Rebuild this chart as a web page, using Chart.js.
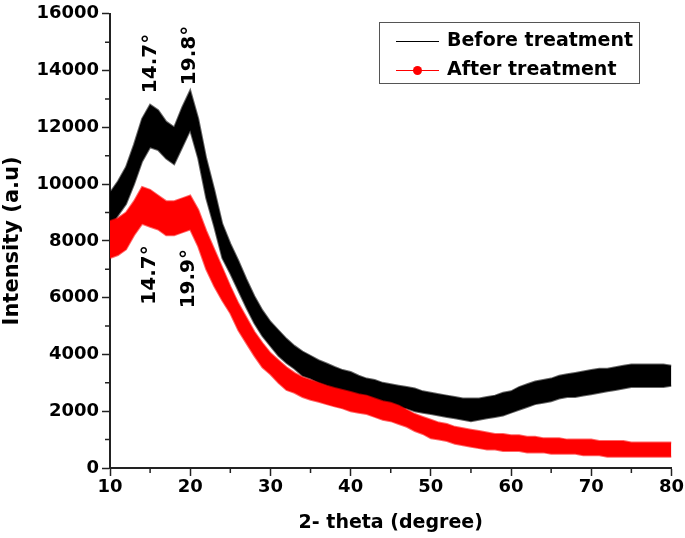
<!DOCTYPE html>
<html>
<head>
<meta charset="utf-8">
<script src="https://cdn.jsdelivr.net/npm/chart.js@4.4.1/dist/chart.umd.min.js"></script>
<style>
  html, body { margin: 0; padding: 0; background: #fff; }
  #graph { display: block; }
</style>
</head>
<body>
<canvas id="graph" width="685" height="538"></canvas>
<script>
const theta = [10, 11, 12, 13, 14, 15, 16, 17, 18, 19, 20, 21, 22, 23, 24, 25, 26, 27, 28, 29,
    30, 31, 32, 33, 34, 35, 36, 37, 38, 39, 40, 41, 42, 43, 44, 45, 46, 47, 48, 49,
    50, 51, 52, 53, 54, 55, 56, 57, 58, 59, 60, 61, 62, 63, 64, 65, 66, 67, 68, 69,
    70, 71, 72, 73, 74, 75, 76, 77, 78, 79, 80];

// upper / lower edge of the noisy band
const beforeHigh = [9700, 10100, 10600, 11400, 12300, 12800, 12600, 12200, 12000, 12700,
    13300, 12300, 10900, 9800, 8600, 7900, 7300, 6650, 6050, 5550,
    5150, 4850, 4550, 4300, 4100, 3950, 3800, 3680, 3560, 3450,
    3380, 3250, 3150, 3100, 3000, 2950, 2900, 2850, 2800, 2700,
    2650, 2600, 2550, 2500, 2450, 2450, 2450, 2500, 2550, 2650,
    2700, 2850, 2950, 3050, 3100, 3150, 3250, 3300, 3350, 3400,
    3450, 3500, 3500, 3550, 3600, 3650, 3650, 3650, 3650, 3650, 3600];
const beforeLow = [8500, 8900, 9300, 10000, 10800, 11300, 11200, 10900, 10700, 11300,
    11900, 10900, 9500, 8500, 7400, 6850, 6250, 5650, 5100, 4650,
    4300, 3950, 3700, 3500, 3250, 3150, 3000, 2900, 2780, 2680,
    2600, 2550, 2450, 2400, 2300, 2200, 2150, 2100, 2000, 1950,
    1900, 1850, 1800, 1750, 1700, 1650, 1700, 1750, 1800, 1850,
    1950, 2050, 2150, 2250, 2300, 2350, 2450, 2500, 2500, 2550,
    2600, 2650, 2700, 2750, 2800, 2850, 2850, 2850, 2850, 2850, 2900];
const afterHigh = [8700, 8800, 9000, 9400, 9900, 9800, 9600, 9400, 9400, 9500,
    9600, 9100, 8350, 7700, 7050, 6400, 5800, 5300, 4800, 4400,
    4050, 3800, 3550, 3350, 3200, 3100, 3000, 2900, 2820, 2750,
    2680, 2600, 2550, 2450, 2350, 2300, 2200, 2050, 1900, 1800,
    1700, 1600, 1550, 1450, 1400, 1350, 1300, 1250, 1200, 1200,
    1150, 1150, 1100, 1100, 1050, 1050, 1050, 1000, 1000, 1000,
    1000, 950, 950, 950, 950, 900, 900, 900, 900, 900, 900];
const afterLow = [7400, 7500, 7700, 8200, 8600, 8500, 8400, 8200, 8200, 8300,
    8400, 7800, 7000, 6400, 5900, 5450, 4850, 4400, 3950, 3550,
    3300, 3000, 2750, 2650, 2500, 2400, 2330, 2250, 2170, 2100,
    2000, 1950, 1900, 1800, 1700, 1650, 1550, 1450, 1300, 1200,
    1050, 1000, 950, 850, 800, 750, 700, 650, 650, 600,
    600, 600, 550, 550, 550, 500, 500, 500, 500, 450,
    450, 450, 400, 400, 400, 400, 400, 400, 400, 400, 400];

const seriesNames = ['Before treatment', 'After treatment'];
const xTicks = [10, 20, 30, 40, 50, 60, 70, 80];
const xMinor = [15, 25, 35, 45, 55, 65, 75];
const yMinor = [1000, 3000, 5000, 7000, 9000, 11000, 13000, 15000];

const peakLabels = [
    { x: 15.1, y: 14250, text: '14.7°' },
    { x: 20.0, y: 14530, text: '19.8°' },
    { x: 15.0, y: 6800, text: '14.7°' },
    { x: 19.85, y: 6670, text: '19.9°' }
];

const FONT = 'DejaVu Sans';
const AXIS = '#222';

function toPoints(ys) {
    return ys.map((v, i) => ({ x: theta[i], y: v }));
}

const minorTicks = {
    id: 'minorTicks',
    afterDraw(chart) {
        const { ctx, scales: { x, y } } = chart;
        ctx.save();
        ctx.strokeStyle = AXIS;
        ctx.lineWidth = 1.5;
        ctx.beginPath();
        xMinor.forEach((v) => {
            const px = x.getPixelForValue(v);
            ctx.moveTo(px, y.bottom);
            ctx.lineTo(px, y.bottom + 5);
        });
        yMinor.forEach((v) => {
            const py = y.getPixelForValue(v);
            ctx.moveTo(x.left, py);
            ctx.lineTo(x.left - 5, py);
        });
        ctx.stroke();
        ctx.restore();
    }
};

const peakText = {
    id: 'peakText',
    afterDraw(chart) {
        const { ctx, scales: { x, y } } = chart;
        ctx.save();
        ctx.fillStyle = '#000';
        ctx.font = 'bold 20px "' + FONT + '"';
        ctx.textAlign = 'center';
        ctx.textBaseline = 'middle';
        peakLabels.forEach((p) => {
            ctx.save();
            ctx.translate(x.getPixelForValue(p.x), y.getPixelForValue(p.y));
            ctx.rotate(-Math.PI / 2);
            ctx.fillText(p.text, 0, 0);
            ctx.restore();
        });
        ctx.restore();
    }
};

const legendBox = {
    id: 'legendBox',
    afterDraw(chart) {
        const ctx = chart.ctx;
        ctx.save();
        ctx.strokeStyle = '#555';
        ctx.lineWidth = 1;
        ctx.strokeRect(379.5, 22.5, 260, 61);
        ctx.font = 'bold 19px "' + FONT + '"';
        ctx.textBaseline = 'middle';
        ctx.fillStyle = '#000';

        ctx.strokeStyle = '#000';
        ctx.beginPath();
        ctx.moveTo(396, 41.5);
        ctx.lineTo(439, 41.5);
        ctx.stroke();
        ctx.fillText(seriesNames[0], 447, 41);

        ctx.strokeStyle = '#f00';
        ctx.beginPath();
        ctx.moveTo(396, 70.5);
        ctx.lineTo(439, 70.5);
        ctx.stroke();
        ctx.fillStyle = '#f00';
        ctx.beginPath();
        ctx.arc(417.5, 70.5, 4.5, 0, Math.PI * 2);
        ctx.fill();
        ctx.fillStyle = '#000';
        ctx.fillText(seriesNames[1], 447, 70);
        ctx.restore();
    }
};

const ctx = document.getElementById('graph');
new Chart(ctx, {
    type: 'line',
    data: {
        datasets: [
            { label: seriesNames[1], data: toPoints(afterHigh), borderColor: 'rgba(255,0,0,0.6)', backgroundColor: '#f00', borderWidth: 2, pointRadius: 0, fill: '+1' },
            { label: seriesNames[1] + ' low', data: toPoints(afterLow), borderColor: 'rgba(255,0,0,0.6)', borderWidth: 2, pointRadius: 0, fill: false },
            { label: seriesNames[0], data: toPoints(beforeHigh), borderColor: 'rgba(0,0,0,0.6)', backgroundColor: '#000', borderWidth: 2, pointRadius: 0, fill: '+1' },
            { label: seriesNames[0] + ' low', data: toPoints(beforeLow), borderColor: 'rgba(0,0,0,0.6)', borderWidth: 2, pointRadius: 0, fill: false }
        ]
    },
    options: {
        responsive: false,
        animation: false,
        events: [],
        layout: { padding: { top: 12, right: 13, left: 0, bottom: 0 } },
        plugins: {
            legend: { display: false },
            tooltip: { enabled: false }
        },
        scales: {
            x: {
                type: 'linear',
                min: 10,
                max: 80,
                afterFit: (scale) => { scale.height = 70; },
                afterBuildTicks: (scale) => { scale.ticks = xTicks.map((v) => ({ value: v })); },
                grid: { drawOnChartArea: false, tickLength: 8, tickWidth: 1.5, tickColor: AXIS },
                border: { color: AXIS, width: 2 },
                ticks: { color: '#000', font: { family: FONT, weight: 'bold', size: 18 }, padding: 1, maxRotation: 0 },
                title: { display: true, text: '2- theta (degree)', color: '#000', font: { family: FONT, weight: 'bold', size: 19 }, padding: { top: 4 } }
            },
            y: {
                min: 0,
                max: 16000,
                afterFit: (scale) => { scale.width = 110; },
                ticks: { stepSize: 2000, color: '#000', font: { family: FONT, weight: 'bold', size: 18 }, padding: 3, callback: (v) => String(v) },
                grid: { drawOnChartArea: false, tickLength: 8, tickWidth: 1.5, tickColor: AXIS },
                border: { color: AXIS, width: 2 },
                title: { display: true, text: 'Intensity (a.u)', color: '#000', font: { family: FONT, weight: 'bold', size: 21 }, padding: { top: 0, bottom: 0 } }
            }
        }
    },
    plugins: [minorTicks, peakText, legendBox]
});
</script>
</body>
</html>
